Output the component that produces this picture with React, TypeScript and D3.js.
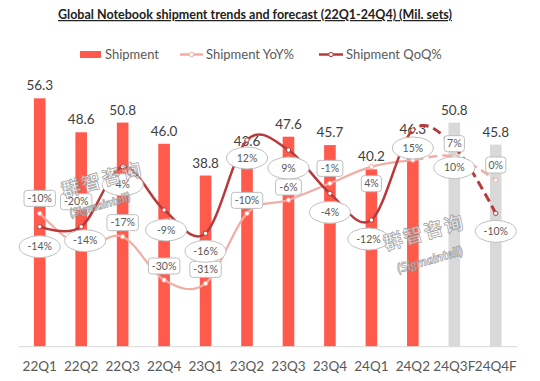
import React from 'react';
import * as d3 from 'd3';

const categories = ['22Q1', '22Q2', '22Q3', '22Q4', '23Q1', '23Q2', '23Q3', '23Q4', '24Q1', '24Q2', '24Q3F', '24Q4F'];
const shipment = [56.3, 48.6, 50.8, 46.0, 38.8, 43.6, 47.6, 45.7, 40.2, 46.3, 50.8, 45.8];
const yoy = [-10, -20, -17, -30, -31, -10, -6, -1, 4, 6, 7, 0];
const qoq = [-14, -14, 4, -9, -16, 12, 9, -4, -12, 15, 10, -10];
const isForecast = [false, false, false, false, false, false, false, false, false, false, true, true];
const yoyLabelDy = [-15, -45, -14, -14, -14, -13, -13, -15, 17, null, -13, -15];
const yoyLabelDx = [0, -5, 0, 0, 0, 0, 0, 0, 0, 0, 0, 0];
const qoqLabelDy = [20, 14, 18, 20, 18, 18, 18, 19, 19, 18, 21, 18];
const qoqLabelDx = [0, 4, 0, 2, 0, 0, 0, 0, -3, 0, 0, 0];

const W = 540;
const H = 381;
const FONT = 'Lato, "Open Sans", sans-serif';
const BAR = '#FF5A4B';
const BAR_F = '#D9D9D9';
const QOQ = '#B93A3C';
const YOY = '#F3ADA5';
const TXT = '#595959';

export default function App() {
  const x = d3.scaleBand<string>().domain(categories).range([19, 516.5]).paddingInner(0.72).paddingOuter(0.36);
  const y = d3.scaleLinear().domain([0, 60]).range([346.7, 82]);
  const p = d3.scaleLinear().domain([-50, 30]).range([346.7, 80]);
  const bw = x.bandwidth();
  const cx = (i: number) => (x(categories[i]) as number) + bw / 2;
  const firstF = isForecast.indexOf(true);
  const splitX = cx(firstF - 1);

  const line = d3.line<number>().x((_, i) => cx(i)).y((d) => p(d)).curve(d3.curveCardinal.tension(0));
  const yoyPath = line(yoy) as string;
  const qoqPath = line(qoq) as string;

  const fmt = (v: number) => `${v}%`;

  return (
    <svg width={W} height={H} style={{ display: 'block', position: 'absolute', left: 0, top: 0, background: '#fff' }}>
      <defs>
        <clipPath id="solidClip"><rect x={0} y={0} width={splitX} height={H} /></clipPath>
        <clipPath id="dashClip"><rect x={splitX} y={0} width={W - splitX} height={H} /></clipPath>
      </defs>
      <rect width={W} height={H} fill="#fff" />
      <text x={255} y={19} textAnchor="middle" fontFamily={FONT} fontWeight="bold" fontSize={12.5} fill="#222"
        textLength={394} lengthAdjust="spacingAndGlyphs" style={{ textDecoration: 'underline' }}>
        Global Notebook shipment trends and forecast (22Q1-24Q4) (Mil. sets)
      </text>

      {/* legend */}
      <g fontFamily={FONT} fontSize={13} fill={TXT}>
        <rect x={80} y={51} width={21} height={7} fill={BAR} />
        <text x={105} y={59}>Shipment</text>
        <line x1={180} x2={203} y1={54.5} y2={54.5} stroke={YOY} strokeWidth={2.5} />
        <circle cx={191.5} cy={54.5} r={2.2} fill="#fff" stroke={YOY} strokeWidth={1} />
        <text x={206} y={59}>Shipment YoY%</text>
        <line x1={319} x2={343} y1={54.5} y2={54.5} stroke={QOQ} strokeWidth={2.5} />
        <circle cx={331} cy={54.5} r={2.2} fill="#fff" stroke={QOQ} strokeWidth={1} />
        <text x={346} y={59}>Shipment QoQ%</text>
      </g>

      {/* bars */}
      {shipment.map((v, i) => (
        <rect key={'b' + i} x={x(categories[i])} y={y(v)} width={bw} height={y(0) - y(v)} fill={isForecast[i] ? BAR_F : BAR} />
      ))}
      <line x1={19} x2={517} y1={y(0)} y2={y(0)} stroke="#D9D9D9" strokeWidth={1} />
      {shipment.map((v, i) => (
        <text key={'bl' + i} x={cx(i)} y={y(v) - 8} textAnchor="middle" fontFamily={FONT} fontSize={13.5} fill="#404040">
          {v.toFixed(1)}
        </text>
      ))}
      {categories.map((c, i) => (
        <text key={'xl' + i} x={cx(i)} y={371} textAnchor="middle" fontFamily={FONT} fontSize={13.5} fill={TXT}>
          {c}
        </text>
      ))}

      {/* lines */}
      <path d={yoyPath} fill="none" stroke={YOY} strokeWidth={2.2} clipPath="url(#solidClip)" />
      <path d={yoyPath} fill="none" stroke={YOY} strokeWidth={2.5} strokeDasharray="9 5" clipPath="url(#dashClip)" />
      <path d={qoqPath} fill="none" stroke={QOQ} strokeWidth={2.5} clipPath="url(#solidClip)" />
      <path d={qoqPath} fill="none" stroke={QOQ} strokeWidth={3} strokeDasharray="9 5" clipPath="url(#dashClip)" />
      {yoy.map((v, i) => (
        <circle key={'ym' + i} cx={cx(i)} cy={p(v)} r={2.2} fill="#fff" stroke={YOY} strokeWidth={1} />
      ))}
      {qoq.map((v, i) => (
        <circle key={'qm' + i} cx={cx(i)} cy={p(v)} r={2.2} fill="#fff" stroke={QOQ} strokeWidth={1} />
      ))}

      {/* YoY labels (boxes) */}
      {yoy.map((v, i) => {
        const dy = yoyLabelDy[i];
        if (dy === null) return null;
        const t = fmt(v);
        const w = t.length * 5.6 + 9;
        const lx = cx(i) + yoyLabelDx[i];
        const ly = p(v) + dy;
        return (
          <g key={'yl' + i}>
            <rect x={lx - w / 2} y={ly - 8} width={w} height={16} rx={3} fill="#fff" stroke="#BFBFBF" strokeWidth={1} />
            <text x={lx} y={ly + 3.7} textAnchor="middle" fontFamily={FONT} fontSize={10.5} fill={TXT}>{t}</text>
          </g>
        );
      })}
      {/* QoQ labels (ellipses) */}
      {qoq.map((v, i) => {
        const t = fmt(v);
        const lx = cx(i) + qoqLabelDx[i];
        const ly = p(v) + qoqLabelDy[i];
        return (
          <g key={'ql' + i}>
            <ellipse cx={lx} cy={ly} rx={20.5} ry={11} fill="#fff" stroke="#BFBFBF" strokeWidth={1} />
            <text x={lx} y={ly + 3.7} textAnchor="middle" fontFamily={FONT} fontSize={10.5} fill={TXT}>{t}</text>
          </g>
        );
      })}

      {/* watermarks */}
      <g fill="#fff" fillOpacity={0.5} stroke="#8c8c8c" strokeWidth={0.8} strokeOpacity={0.8} fontWeight="bold" textAnchor="middle">
        <text transform="translate(104,186) rotate(-16)" fontFamily='"Noto Sans CJK SC"' fontSize={19} letterSpacing={2}>群智咨询</text>
        <text transform="translate(101,209) rotate(-16)" fontFamily={FONT} fontStyle="italic" fontSize={12}>(Sigmaintell)</text>
        <text transform="translate(426,239) rotate(-16)" fontFamily='"Noto Sans CJK SC"' fontSize={19} letterSpacing={2}>群智咨询</text>
        <text transform="translate(431,264) rotate(-16)" fontFamily={FONT} fontStyle="italic" fontSize={13}>(Sigmaintell)</text>
      </g>
    </svg>
  );
}
